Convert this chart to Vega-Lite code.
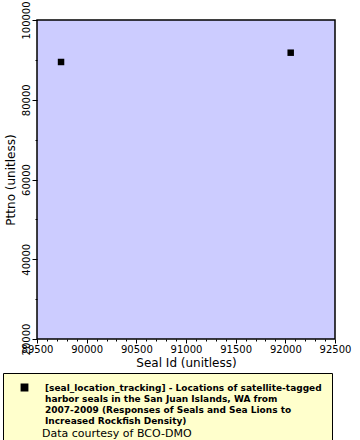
{
  "$schema": "https://vega.github.io/schema/vega-lite/v6.json",
  "width": 298,
  "height": 319,
  "autosize": {"type": "none"},
  "padding": {"left": 37, "top": 20, "right": 25, "bottom": 101},
  "background": "white",
  "title": {"text": "Data courtesy of BCO-DMO", "orient": "bottom", "anchor": "start", "frame": "group", "dx": 5, "offset": -20, "baseline": "top", "fontSize": 11, "fontWeight": "normal", "font": "DejaVu Sans", "color": "black", "zindex": 2},
  "config": {
    "font": "DejaVu Sans",
    "view": {"fill": "#ccccff", "stroke": "black", "strokeWidth": 1.5},
    "axis": {"grid": false, "domain": false, "tickColor": "black", "labelColor": "black", "titleColor": "black", "labelFontSize": 10, "titleFontSize": 12, "titleFontWeight": "normal", "labelFont": "DejaVu Sans", "titleFont": "DejaVu Sans", "format": "d"}
  },
  "data": {"values": [
    {"seal_id": 89742, "pttno": 89470, "dataset": "[seal_location_tracking] - Locations of satellite-tagged|harbor seals in the San Juan Islands, WA from|2007-2009 (Responses of Seals and Sea Lions to|Increased Rockfish Density)"},
    {"seal_id": 92054, "pttno": 91800, "dataset": "[seal_location_tracking] - Locations of satellite-tagged|harbor seals in the San Juan Islands, WA from|2007-2009 (Responses of Seals and Sea Lions to|Increased Rockfish Density)"}
  ]},
  "layer": [
    {
      "mark": {"type": "point", "shape": "square", "filled": true, "size": 42, "opacity": 1},
      "encoding": {
        "x": {"field": "seal_id", "type": "quantitative", "title": "Seal Id (unitless)",
          "scale": {"domain": [89500, 92500], "nice": false, "zero": false},
          "axis": {"orient": "bottom", "format": "d", "values": [89500, 90000, 90500, 91000, 91500, 92000, 92500], "tickSize": 4, "labelPadding": 1, "titlePadding": 3, "labelFlush": false, "labelOverlap": false}},
        "y": {"field": "pttno", "type": "quantitative", "title": "Pttno (unitless)",
          "scale": {"domain": [20000, 100000], "nice": false, "zero": false},
          "axis": {"orient": "left", "format": "d", "values": [20000, 40000, 60000, 80000, 100000], "tickSize": 5, "labelAngle": 270, "labelAlign": "center", "labelBaseline": "bottom", "labelPadding": 1, "titlePadding": 4, "labelFlush": false, "labelOverlap": false}},
        "color": {"field": "dataset", "type": "nominal", "scale": {"range": ["black"]},
          "legend": {
            "orient": "none", "legendX": -34, "legendY": 353, "title": null, "zindex": 0,
            "labelExpr": "split(datum.label + '|', '|')", "labelFontWeight": "bold", "labelFontSize": 9, "labelFont": "DejaVu Sans", "labelColor": "black", "labelLimit": 400, "labelOffset": 16,
            "symbolType": "square", "symbolSize": 40, "symbolFillColor": "black", "symbolStrokeColor": "black", "symbolOffset": 7,
            "fillColor": "#ffffcc", "strokeColor": "black", "padding": 10,
            "encode": {
              "labels": {"update": {"lineHeight": {"value": 10.5}}}
            }
          }}
      }
    },
    {
      "mark": {"type": "point", "opacity": 0},
      "encoding": {
        "x": {"field": "seal_id", "type": "quantitative",
          "axis": {"orient": "bottom", "title": null, "labels": false, "tickSize": 2, "values": [89600,89700,89800,89900,90100,90200,90300,90400,90600,90700,90800,90900,91100,91200,91300,91400,91600,91700,91800,91900,92100,92200,92300,92400]}},
        "y": {"field": "pttno", "type": "quantitative",
          "axis": {"orient": "left", "title": null, "labels": false, "tickSize": 2, "values": [30000, 50000, 70000, 90000]}}
      }
    }
  ],
  "resolve": {"axis": {"x": "independent", "y": "independent"}}
}
